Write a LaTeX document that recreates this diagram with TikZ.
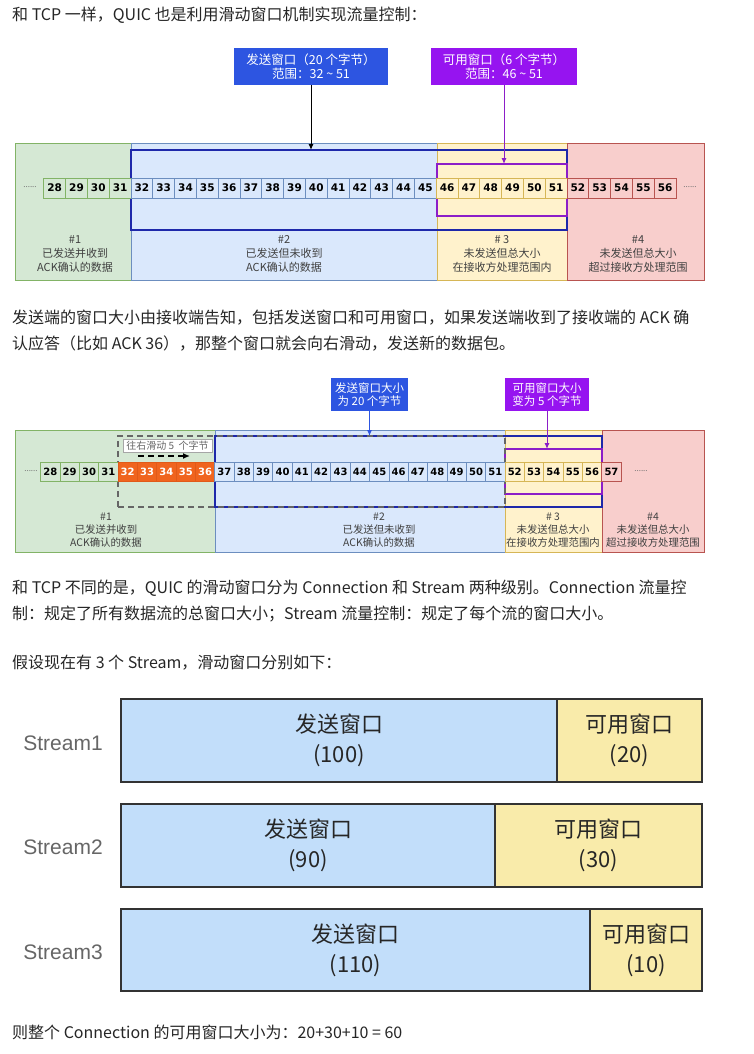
\documentclass[tikz,border=0pt]{standalone}
\usepackage{fontspec}
\setmainfont{Noto Sans CJK SC}
\newfontfamily\digitfont{DejaVu Sans}
\newfontfamily\streamfont{Liberation Sans}
\usetikzlibrary{arrows.meta,positioning}
\definecolor{grnfill}{HTML}{D5E8D4}
\definecolor{grnline}{HTML}{82B366}
\definecolor{blufill}{HTML}{DAE8FC}
\definecolor{bluline}{HTML}{6C8EBF}
\definecolor{ylwfill}{HTML}{FFF2CC}
\definecolor{ylwline}{HTML}{D6B656}
\definecolor{redfill}{HTML}{F8CECC}
\definecolor{redline}{HTML}{B85450}
\definecolor{hotfill}{RGB}{240,100,30}
\definecolor{hotline}{RGB}{225,90,25}
\definecolor{winblue}{RGB}{30,40,170}
\definecolor{winpurple}{RGB}{140,30,200}
\definecolor{tagblue}{RGB}{45,85,225}
\definecolor{tagpurple}{RGB}{150,20,240}
\definecolor{strmblue}{RGB}{194,222,250}
\definecolor{strmyellow}{RGB}{249,235,170}
\tikzset{
  bodytext/.style={anchor=west,inner sep=0pt,text=black!85,align=left,
    font=\fontsize{16}{26}\selectfont},
  zonefill/.style={draw=#1line,fill=#1fill,line width=0.8},
  numcell/.style={draw=#1line,fill=#1fill,line width=0.8,inner sep=0pt,
    minimum width=21.8,minimum height=20,
    font=\digitfont\bfseries\fontsize{10.5}{10.5}\selectfont},
  smallcell/.style={numcell=#1,minimum width=19.35,minimum height=19,
    font=\digitfont\bfseries\fontsize{10}{10}\selectfont},
  zonelabel/.style={align=center,inner sep=0pt,text=black!75,
    font=\fontsize{11}{14}\selectfont},
  smalllabel/.style={zonelabel,font=\fontsize{10.4}{13}\selectfont},
  gapdots/.style={inner sep=0pt,text=black!55,font=\fontsize{8}{8}\selectfont},
  winframe/.style={draw=#1,line width=2.2,inner sep=0pt,outer sep=0pt},
  oldframe/.style={draw=black!60,line width=2,dash pattern=on 6 off 4,
    inner sep=0pt,outer sep=0pt},
  windowtag/.style={fill=#1,text=white,inner sep=0pt,align=center,
    font=\fontsize{12.5}{14.5}\selectfont},
  smalltag/.style={windowtag=#1,font=\fontsize{11.5}{13}\selectfont},
  pointer/.style={-{Latex[length=6,width=5]},line width=1},
  slidelabel/.style={draw=black!35,fill=white,inner sep=0pt,text=black!60,
    minimum width=89,minimum height=13,font=\fontsize{10}{10}\selectfont},
  slidearrow/.style={-{Latex[length=7,width=6]},line width=2,
    dash pattern=on 6 off 4},
  sendpart/.style={draw=black!80,fill=strmblue,line width=1.2,inner sep=0pt,
    outer sep=0pt,align=center,text=black!85,font=\fontsize{22}{30}\selectfont},
  availpart/.style={sendpart,fill=strmyellow},
  streamname/.style={inner sep=0pt,text=black!60,
    font=\streamfont\fontsize{21}{21}\selectfont}
}
\begin{document}
\begin{tikzpicture}[x=1pt,y=-1pt]
\useasboundingbox (0,0) rectangle (753,1054);
\fill[white] (0,0) rectangle (753,1054);

\node[bodytext] (intro) at (12,15) {和 TCP 一样，QUIC 也是利用滑动窗口机制实现流量控制：};

% before the ACK
\draw[zonefill=grn] (15,143) rectangle (131,280);
\draw[zonefill=blu] (131,143) rectangle (437,280);
\draw[zonefill=ylw] (437,143) rectangle (567,280);
\draw[zonefill=red] (567,143) rectangle (704,280);
\node[winframe=winblue,minimum width=436,minimum height=80] (sendwin) at (349,190) {};
\node[winframe=winpurple,minimum width=130,minimum height=52] (availwin) at (502,190) {};
\foreach \n in {28,...,31} \node[numcell=grn] (c\n) at ({54.7+(\n-28)*21.8},188) {\n};
\foreach \n in {32,...,45} \node[numcell=blu] (c\n) at ({54.7+(\n-28)*21.8},188) {\n};
\foreach \n in {46,...,51} \node[numcell=ylw] (c\n) at ({54.7+(\n-28)*21.8},188) {\n};
\foreach \n in {52,...,56} \node[numcell=red] (c\n) at ({54.7+(\n-28)*21.8},188) {\n};
\node[gapdots] (cdotsl) at (30,187) {......};
\node[gapdots] (cdotsr) at (690,187) {......};
\node[zonelabel] (cz1) at (75,254) {\#1\\已发送并收到\\ACK确认的数据};
\node[zonelabel] (cz2) at (284,254) {\#2\\已发送但未收到\\ACK确认的数据};
\node[zonelabel] (cz3) at (502,254) {\# 3\\未发送但总大小\\在接收方处理范围内};
\node[zonelabel] (cz4) at (638,254) {\#4\\未发送但总大小\\超过接收方处理范围};
\node[windowtag=tagblue,minimum width=154,minimum height=37] (sendtag) at (311,66.5)
  {发送窗口（20 个字节）\\范围：32 \textasciitilde{} 51};
\node[windowtag=tagpurple,minimum width=146,minimum height=37] (availtag) at (504,66.5)
  {可用窗口（6 个字节）\\范围：46 \textasciitilde{} 51};
\draw[pointer] (sendtag.south) -- (sendtag.south |- sendwin.north);
\draw[pointer,winpurple] (availtag.south) -- (availtag.south |- availwin.north);

\node[bodytext] (para2) at (12,331) {发送端的窗口大小由接收端告知，包括发送窗口和可用窗口，如果发送端收到了接收端的 ACK 确\\认应答（比如 ACK 36），那整个窗口就会向右滑动，发送新的数据包。};

% after the ACK
\draw[zonefill=grn] (15,430) rectangle (215,552);
\draw[zonefill=blu] (215,430) rectangle (505,552);
\draw[zonefill=ylw] (505,430) rectangle (602,552);
\draw[zonefill=red] (602,430) rectangle (704,552);
\node[winframe=winblue,minimum width=387,minimum height=71] (newwin) at (408.5,471.5) {};
\node[winframe=winpurple,minimum width=97,minimum height=45] (newavail) at (553.5,471.5) {};
\node[oldframe,minimum width=387,minimum height=71] (oldwin) at (311.5,471.5) {};
\foreach \n in {28,...,31} \node[smallcell=grn] (d\n) at ({50.3+(\n-28)*19.35},471.5) {\n};
\foreach \n in {32,...,36} \node[smallcell=hot,text=white] (d\n) at ({50.3+(\n-28)*19.35},471.5) {\n};
\foreach \n in {37,...,51} \node[smallcell=blu] (d\n) at ({50.3+(\n-28)*19.35},471.5) {\n};
\foreach \n in {52,...,56} \node[smallcell=ylw] (d\n) at ({50.3+(\n-28)*19.35},471.5) {\n};
\node[smallcell=red] (d57) at ({50.3+29*19.35},471.5) {57};
\node[gapdots] (ddotsl) at (31,471) {......};
\node[gapdots] (ddotsr) at (641,471) {......};
\node[slidelabel] (slidetxt) at (167.5,445.5) {往右滑动 5\ \ 个字节};
\coordinate (slidefrom) at (138,456);
\coordinate (slideto) at (190,456);
\draw[slidearrow] (slidefrom) -- (slideto);
\node[smalllabel] (dz1) at (106,530) {\#1\\已发送并收到\\ACK确认的数据};
\node[smalllabel] (dz2) at (379,530) {\#2\\已发送但未收到\\ACK确认的数据};
\node[smalllabel] (dz3) at (553,530) {\# 3\\未发送但总大小\\在接收方处理范围内};
\node[smalllabel] (dz4) at (653,530) {\#4\\未发送但总大小\\超过接收方处理范围};
\node[smalltag=tagblue,minimum width=77,minimum height=33] (sizetag) at (369.5,394.5)
  {发送窗口大小\\为 20 个字节};
\node[smalltag=tagpurple,minimum width=84,minimum height=33] (shrinktag) at (547,394.5)
  {可用窗口大小\\变为 5 个字节};
\draw[pointer,tagblue] (sizetag.south) -- (sizetag.south |- newwin.north);
\draw[pointer,winpurple] (shrinktag.south) -- (shrinktag.south |- newavail.north);

\node[bodytext] (para3) at (12,601) {和 TCP 不同的是，QUIC 的滑动窗口分为 Connection 和 Stream 两种级别。Connection 流量控\\制：规定了所有数据流的总窗口大小；Stream 流量控制：规定了每个流的窗口大小。};
\node[bodytext] (para4) at (12,663) {假设现在有 3 个 Stream，滑动窗口分别如下：};

% streams
\node[sendpart,minimum width=436,minimum height=83] (s1send) at (339,740.5) {发送窗口\\(100)};
\node[availpart,minimum width=145,minimum height=83,right=0pt of s1send] (s1avail) {可用窗口\\(20)};
\node[streamname] (s1name) at (63,743) {Stream1};
\node[sendpart,minimum width=374,minimum height=83] (s2send) at (308,845.5) {发送窗口\\(90)};
\node[availpart,minimum width=207,minimum height=83,right=0pt of s2send] (s2avail) {可用窗口\\(30)};
\node[streamname] (s2name) at (63,847) {Stream2};
\node[sendpart,minimum width=469,minimum height=82] (s3send) at (355.5,950) {发送窗口\\(110)};
\node[availpart,minimum width=112,minimum height=82,right=0pt of s3send] (s3avail) {可用窗口\\(10)};
\node[streamname] (s3name) at (63,952) {Stream3};

\node[bodytext] (total) at (12,1032) {则整个 Connection 的可用窗口大小为：20+30+10 = 60};
\end{tikzpicture}
\end{document}
